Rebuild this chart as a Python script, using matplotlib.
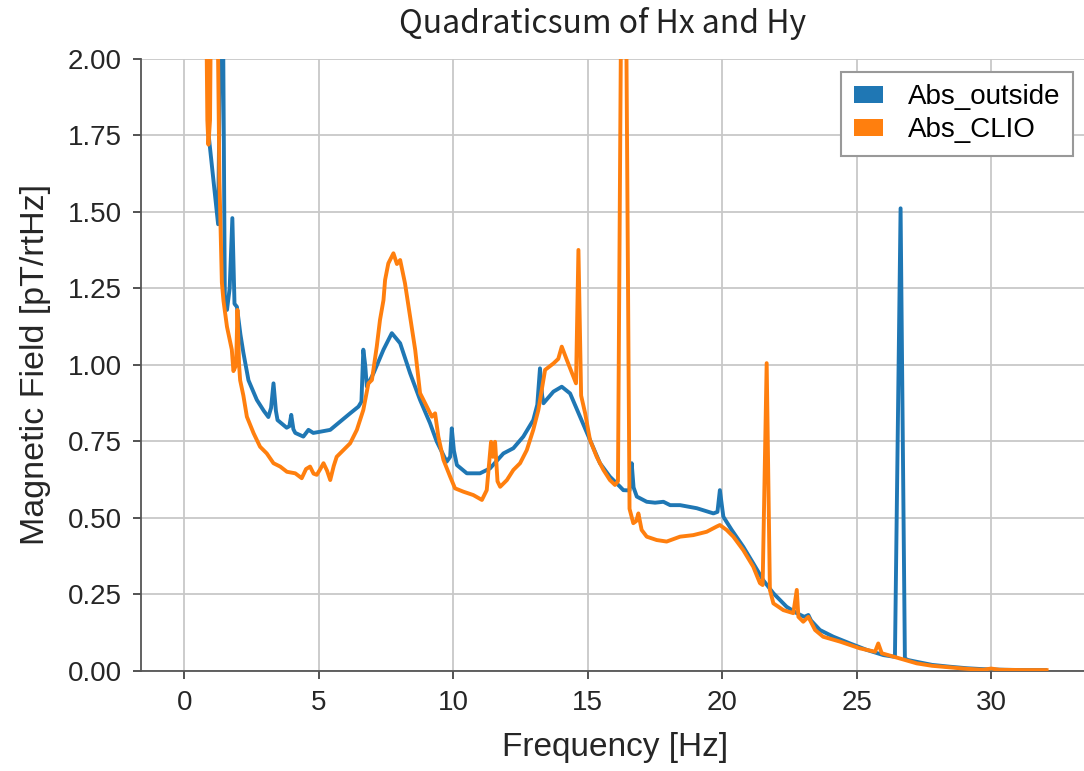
'''
Quadratic sum of Hx and Hy spectra
'''

import numpy             as np
import matplotlib
matplotlib.use( 'Agg' )
import matplotlib.pyplot as plt
from   matplotlib.patches import Patch

plt.rcParams[ 'font.family' ] = [ 'Liberation Sans', 'DejaVu Sans' ]

# Abs_outside spectrum (Hz, pT/rtHz)
freq_outside = [
    0.72, 0.90, 1.25, 1.40, 1.50, 1.58, 1.68, 1.78, 1.86, 1.95,
    2.08, 2.19, 2.38, 2.69, 2.95, 3.12, 3.22, 3.31, 3.40, 3.46,
    3.80, 3.90, 3.97, 4.05, 4.12, 4.42, 4.61, 4.79, 5.05, 5.42,
    5.79, 6.16, 6.47, 6.58, 6.65, 6.72, 6.78, 7.03, 7.40, 7.71,
    8.02, 8.39, 8.76, 9.13, 9.38, 9.75, 9.88, 9.94, 10.02, 10.13,
    10.50, 10.99, 11.36, 11.86, 12.23, 12.60, 12.97, 13.12, 13.22, 13.30,
    13.35, 13.72, 14.03, 14.34, 14.71, 15.08, 15.45, 15.82, 16.20, 16.32,
    16.55, 16.63, 16.70, 16.82, 17.19, 17.50, 17.81, 18.06, 18.43, 19.05,
    19.67, 19.82, 19.91, 20.00, 20.04, 20.35, 20.78, 21.15, 21.52, 21.90,
    22.39, 22.77, 23.05, 23.20, 23.30, 23.63, 24.13, 24.75, 25.37, 25.99,
    26.36, 26.42, 26.63, 26.79, 26.90, 27.23, 27.80, 28.46, 29.10, 29.70,
    30.50, 31.20, 32.00,
]
abs_outside = [
    3.000, 1.750, 1.460, 2.600, 1.220, 1.180, 1.250, 1.480, 1.200, 1.190,
    1.100, 1.040, 0.950, 0.886, 0.850, 0.830, 0.860, 0.940, 0.850, 0.820,
    0.795, 0.800, 0.837, 0.790, 0.778, 0.766, 0.788, 0.778, 0.782, 0.788,
    0.815, 0.842, 0.864, 0.880, 1.050, 1.000, 0.930, 0.973, 1.050, 1.104,
    1.071, 0.973, 0.886, 0.810, 0.750, 0.684, 0.700, 0.793, 0.720, 0.673,
    0.646, 0.646, 0.662, 0.711, 0.728, 0.766, 0.820, 0.870, 0.989, 0.900,
    0.875, 0.913, 0.929, 0.907, 0.831, 0.755, 0.679, 0.635, 0.602, 0.591,
    0.590, 0.679, 0.600, 0.570, 0.553, 0.550, 0.553, 0.542, 0.542, 0.532,
    0.515, 0.520, 0.591, 0.530, 0.504, 0.461, 0.406, 0.352, 0.297, 0.254,
    0.210, 0.189, 0.177, 0.183, 0.165, 0.134, 0.112, 0.090, 0.069, 0.052,
    0.047, 0.047, 1.512, 0.041, 0.036, 0.030, 0.020, 0.014, 0.009, 0.006,
    0.004, 0.003, 0.003,
]

# Abs_CLIO spectrum (Hz, pT/rtHz)
freq_clio = [
    0.72, 0.85, 0.89, 0.95, 1.02, 1.15, 1.30, 1.39, 1.45, 1.58,
    1.76, 1.82, 1.92, 1.97, 2.03, 2.07, 2.19, 2.32, 2.57, 2.81,
    3.06, 3.31, 3.56, 3.81, 4.12, 4.36, 4.52, 4.67, 4.80, 4.92,
    5.05, 5.17, 5.30, 5.42, 5.55, 5.66, 5.91, 6.16, 6.41, 6.65,
    6.84, 6.97, 7.15, 7.27, 7.40, 7.46, 7.58, 7.77, 7.90, 8.02,
    8.20, 8.39, 8.58, 8.76, 9.01, 9.20, 9.32, 9.44, 9.63, 9.88,
    10.06, 10.37, 10.74, 11.06, 11.24, 11.40, 11.47, 11.55, 11.64, 11.74,
    11.99, 12.23, 12.48, 12.73, 12.97, 13.16, 13.41, 13.72, 13.90, 14.03,
    14.22, 14.46, 14.56, 14.65, 14.75, 14.90, 15.08, 15.33, 15.58, 15.82,
    16.01, 16.12, 16.30, 16.36, 16.55, 16.69, 16.80, 16.88, 17.00, 17.19,
    17.56, 17.93, 18.43, 18.92, 19.42, 19.79, 19.91, 20.16, 20.41, 20.78,
    21.15, 21.40, 21.50, 21.65, 21.77, 21.90, 22.27, 22.64, 22.77, 22.83,
    23.01, 23.20, 23.45, 23.75, 24.38, 25.12, 25.68, 25.80, 25.93, 26.36,
    27.23, 27.80, 28.46, 29.10, 29.70, 30.00, 30.30, 31.20, 32.06,
]
abs_clio = [
    3.000, 1.800, 1.720, 1.800, 2.600, 2.800, 1.600, 1.270, 1.210, 1.125,
    1.050, 0.980, 1.000, 1.180, 1.000, 0.950, 0.900, 0.831, 0.777, 0.733,
    0.711, 0.679, 0.668, 0.651, 0.646, 0.630, 0.660, 0.668, 0.645, 0.641,
    0.660, 0.679, 0.655, 0.624, 0.670, 0.700, 0.722, 0.744, 0.788, 0.853,
    0.940, 0.951, 1.060, 1.147, 1.212, 1.278, 1.332, 1.365, 1.330, 1.343,
    1.267, 1.158, 1.049, 0.908, 0.864, 0.831, 0.842, 0.766, 0.690, 0.635,
    0.597, 0.586, 0.575, 0.559, 0.591, 0.749, 0.700, 0.749, 0.620, 0.602,
    0.624, 0.657, 0.679, 0.722, 0.788, 0.853, 0.984, 1.005, 1.020, 1.060,
    1.016, 0.962, 0.940, 1.376, 0.900, 0.842, 0.755, 0.700, 0.657, 0.624,
    0.608, 0.620, 3.000, 3.000, 0.530, 0.483, 0.490, 0.515, 0.461, 0.439,
    0.428, 0.423, 0.439, 0.444, 0.455, 0.472, 0.477, 0.461, 0.439, 0.395,
    0.341, 0.287, 0.281, 1.006, 0.265, 0.221, 0.199, 0.189, 0.265, 0.177,
    0.161, 0.177, 0.134, 0.112, 0.096, 0.074, 0.063, 0.090, 0.058, 0.047,
    0.025, 0.017, 0.012, 0.007, 0.004, 0.008, 0.004, 0.003, 0.003,
]

series_labels = [ 'Abs_outside', 'Abs_CLIO' ]
series_colors = [ '#1f77b4', '#ff7f0e' ]

y_ticks = [ 0.0, 0.25, 0.5, 0.75, 1.0, 1.25, 1.5, 1.75, 2.0 ]
x_ticks = [ 0, 5, 10, 15, 20, 25, 30 ]

# Figure and axes (axes runs slightly past the right edge, as in the original crop)
fig = plt.figure( figsize = ( 10.84, 7.71 ), dpi = 100 )
ax  = fig.add_axes( [ 0.1305, 0.1297, 0.8732, 0.7938 ] )

ax.plot( freq_outside, abs_outside, color = series_colors[ 0 ], lw = 2.8, zorder = 3 )
ax.plot( freq_clio,    abs_clio,    color = series_colors[ 1 ], lw = 2.8, zorder = 4 )

ax.set_xlim( -1.6, 33.6 )
ax.set_ylim( 0, 2.0 )
ax.set_xticks( x_ticks )
ax.set_yticks( y_ticks )
ax.yaxis.set_major_formatter( plt.FormatStrFormatter( '%.2f' ) )

ax.grid( True, color = '#c8c8c8', linewidth = 1.3 )
ax.set_axisbelow( True )
for side in [ 'top', 'right' ]:
    ax.spines[ side ].set_visible( False )
for side in [ 'left', 'bottom' ]:
    ax.spines[ side ].set_color( '#555555' )
    ax.spines[ side ].set_linewidth( 1.3 )

ax.tick_params( axis = 'both', direction = 'out', length = 6, width = 1.3,
                color = '#444444', labelsize = 20, labelcolor = '#262626', pad = 8 )

ax.set_xlabel( 'Frequency [Hz]', fontsize = 24, color = '#262626', labelpad = 11 )
ax.set_ylabel( 'Magnetic Field [pT/rtHz]', fontsize = 24.5, color = '#262626', labelpad = 12 )

fig.text( 0.556, 0.969, 'Quadraticsum of Hx and Hy', ha = 'center', va = 'center',
          fontsize = 23, color = '#222222', family = [ 'Noto Sans CJK JP', 'DejaVu Sans' ] )

handles = [ Patch( facecolor = c, label = l ) for c, l in zip( series_colors, series_labels ) ]
leg = ax.legend( handles = handles, loc = 'upper right', bbox_to_anchor = ( 0.984, 0.979 ),
                 borderaxespad = 0, fontsize = 20, fancybox = False, framealpha = 1,
                 edgecolor = '#999999', handlelength = 1.05, handleheight = 0.6,
                 handletextpad = 0.9, borderpad = 0.45, labelspacing = 0.25 )
leg.get_frame().set_linewidth( 1.5 )

fig.savefig( 'out.png', dpi = 100 )
